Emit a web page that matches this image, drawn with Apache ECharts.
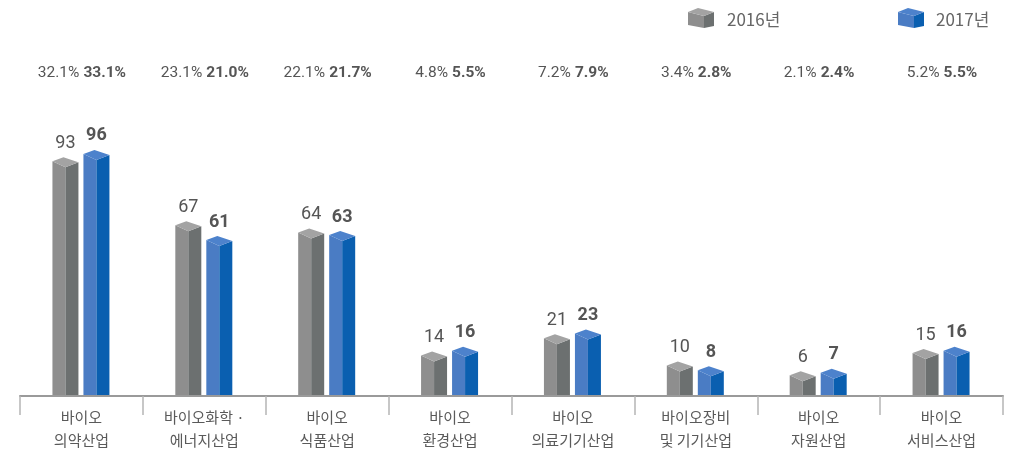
<!DOCTYPE html>
<html>
<head>
<meta charset="utf-8">
<script src="https://cdn.jsdelivr.net/npm/echarts@6/dist/echarts.min.js"></script>
<style>
  html, body { margin: 0; padding: 0; background: #fff; }
  #chart { width: 1015px; height: 455px; }
</style>
</head>
<body>
<div id="chart"></div>
<script>
// 데이터
var categories = ['바이오\n의약산업', '바이오화학 ·\n에너지산업', '바이오\n식품산업', '바이오\n환경산업',
  '바이오\n의료기기산업', '바이오장비\n및 기기산업', '바이오\n자원산업', '바이오\n서비스산업'];
var values2016 = [93, 67, 64, 14, 21, 10, 6, 15];
var values2017 = [96, 61, 63, 16, 23, 8, 7, 16];
var share2016 = ['32.1%', '23.1%', '22.1%', '4.8%', '7.2%', '3.4%', '2.1%', '5.2%'];
var share2017 = ['33.1%', '21.0%', '21.7%', '5.5%', '7.9%', '2.8%', '2.4%', '5.5%'];
var seriesNames = ['2016년', '2017년'];

var NUM_FONT = 'Roboto, "Noto Sans CJK KR", sans-serif';
var KR_FONT = '"Noto Sans CJK KR", sans-serif';

// 색상 (왼쪽면, 오른쪽면, 윗면)
var colors = [
  { left: '#8e8e8e', right: '#6c7070', top: '#a3a3a3' },
  { left: '#4a7cc4', right: '#0a5fb0', top: '#4d82cc' }
];

// 3D 막대
function make3DBar(idx, shares) {
  var offset = idx === 0 ? -16 : 15;
  var c = colors[idx];
  return function(params, api) {
    var x = api.value(0);
    var top = api.coord([x, api.value(1)]);
    var base = api.coord([x, 0]);
    var xc = top[0] + offset;
    var x0 = xc - 13, x1 = xc + 13, xm = xc;
    var yv = top[1], yb = base[1] - 1;
    return {
      type: 'group',
      children: [
        { type: 'polygon', shape: { points: [[x0, yv - 6], [xm, yv], [xm, yb], [x0, yb]] }, style: { fill: c.left } },
        { type: 'polygon', shape: { points: [[xm, yv], [x1, yv - 5], [x1, yb], [xm, yb]] }, style: { fill: c.right } },
        { type: 'polygon', shape: { points: [[x0, yv - 6], [x0 + 11, yv - 10], [x1, yv - 5], [xm, yv]] }, style: { fill: c.top } },
        { type: 'text', x: xc, y: yv - 15, style: {
            text: String(api.value(1)), align: 'center', verticalAlign: 'bottom',
            font: (idx === 0 ? 'normal' : 'bold') + ' 18px ' + NUM_FONT, fill: '#555'
        } },
        { type: 'text', x: top[0] + (idx === 0 ? -2 : 2), y: 73, style: {
            text: shares[params.dataIndex], align: idx === 0 ? 'right' : 'left', verticalAlign: 'middle',
            font: (idx === 0 ? 'normal' : 'bold') + ' 15.5px ' + NUM_FONT, fill: '#555'
        } }
      ]
    };
  };
}

// 범례 큐브
function cube(x, y, c) {
  return {
    type: 'group', x: x, y: y,
    children: [
      { type: 'polygon', shape: { points: [[0, 4], [16, 8], [16, 20], [0, 17]] }, style: { fill: c.left } },
      { type: 'polygon', shape: { points: [[16, 8], [26, 4], [26, 18], [16, 20]] }, style: { fill: c.right } },
      { type: 'polygon', shape: { points: [[0, 4], [10, 0], [26, 4], [16, 8]] }, style: { fill: c.top } }
    ]
  };
}

var myChart = echarts.init(document.getElementById('chart'));

var option = {
  animation: false,
  grid: { left: 20, right: 12, top: 96, bottom: 59 },
  xAxis: {
    type: 'category',
    data: categories,
    axisLine: { lineStyle: { color: '#9a9a9a', width: 2 } },
    axisTick: { show: true, interval: 0, length: 19, lineStyle: { color: '#b5b5b5', width: 1.5 } },
    axisLabel: { interval: 0, margin: 10, color: '#5a5a5a', fontSize: 15, lineHeight: 23, fontFamily: KR_FONT }
  },
  yAxis: { type: 'value', min: 0, max: 122, show: false },
  graphic: [
    cube(688, 8, colors[0]),
    { type: 'text', x: 727, y: 20, style: { text: seriesNames[0], font: '17px ' + KR_FONT, fill: '#666', verticalAlign: 'middle' } },
    cube(898, 8, colors[1]),
    { type: 'text', x: 936, y: 20, style: { text: seriesNames[1], font: '17px ' + KR_FONT, fill: '#666', verticalAlign: 'middle' } }
  ],
  series: [
    { name: seriesNames[0], type: 'custom', renderItem: make3DBar(0, share2016),
      data: values2016.map(function(v, i) { return [i, v]; }) },
    { name: seriesNames[1], type: 'custom', renderItem: make3DBar(1, share2017),
      data: values2017.map(function(v, i) { return [i, v]; }) }
  ]
};

myChart.setOption(option);
</script>
</body>
</html>
